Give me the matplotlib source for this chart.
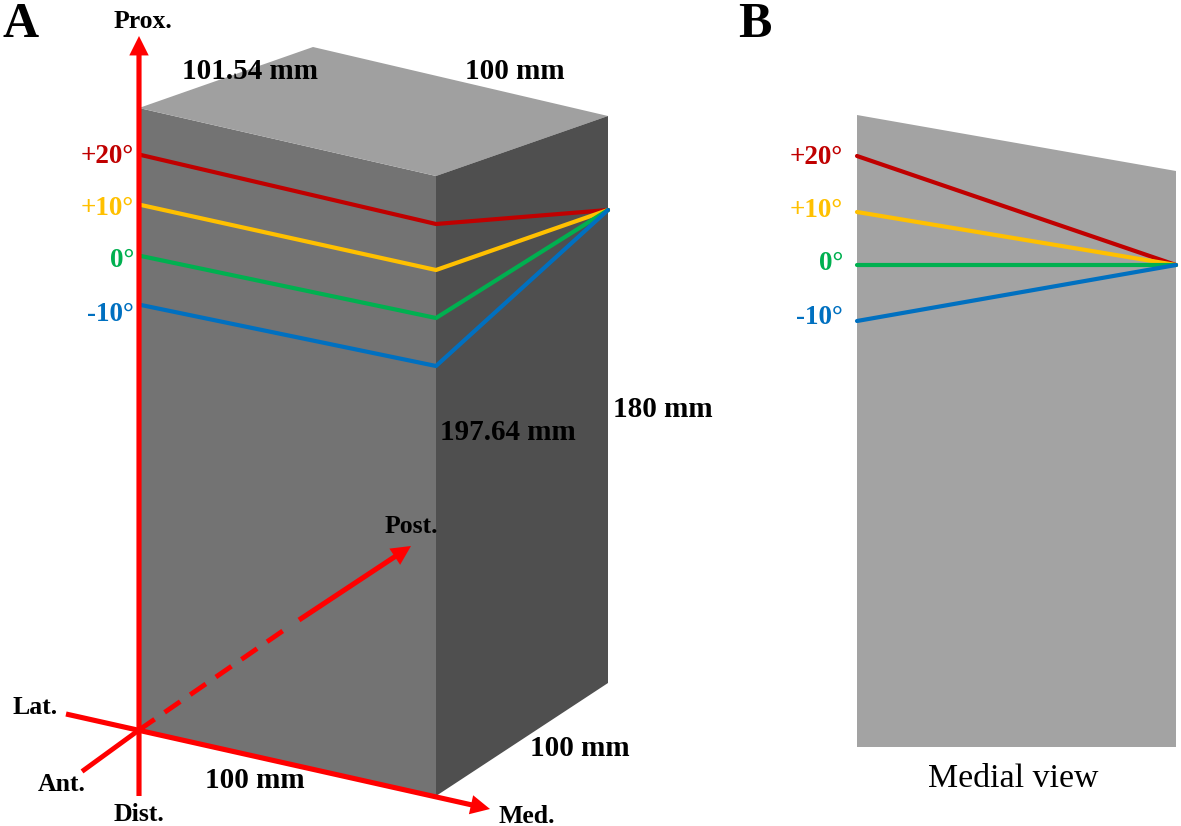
import matplotlib
matplotlib.use("Agg")
import matplotlib.pyplot as plt
from matplotlib.patches import Polygon

plt.rcParams["font.family"] = ["Liberation Serif", "DejaVu Serif"]

W, H = 1181, 826

# block faces, pixel positions in the figure
front_face = [(139, 108), (436, 176), (436, 796), (139, 730)]
top_face = [(139, 108), (313, 47), (608, 116), (436, 176)]
side_face = [(436, 176), (608, 116), (608, 683), (436, 796)]
medial_face = [(857, 115), (1176, 171), (1176, 747), (857, 747)]

angle_labels = ["+20°", "+10°", "0°", "-10°"]
angle_colors = ["#c00000", "#ffc000", "#00b050", "#0070c0"]

# cut lines on the block: lateral edge, front edge, back corner
lines_x = [141, 436, 608]
lines_y = {
    "+20°": [155, 224, 210],
    "+10°": [205, 270, 210],
    "0°": [256, 318, 210],
    "-10°": [305, 366, 210],
}
label_a_y = [163, 215, 267, 321]

# medial view lines
medial_x = [857, 1176]
medial_y = {
    "+20°": [156, 265],
    "+10°": [212, 265],
    "0°": [265, 265],
    "-10°": [321, 265],
}
label_b_y = [164, 217, 270, 324]

dim_labels = [
    ("101.54 mm", 249.5, 79), ("100 mm", 515, 79), ("197.64 mm", 508, 440),
    ("180 mm", 663, 417), ("100 mm", 580, 756), ("100 mm", 255, 788),
]
axis_labels = [
    ("Prox.", 143, 28), ("Post.", 411, 533), ("Lat.", 35, 714),
    ("Ant.", 62, 791), ("Dist.", 139, 821), ("Med.", 527, 823),
]

fig = plt.figure(figsize=(W / 100, H / 100), dpi=100)
ax = fig.add_axes([0, 0, 1, 1])
ax.set_xlim(0, W)
ax.set_ylim(H, 0)
ax.axis("off")

ax.add_patch(Polygon(front_face, color="#737373", lw=0))
ax.add_patch(Polygon(top_face, color="#a0a0a0", lw=0))
ax.add_patch(Polygon(side_face, color="#4f4f4f", lw=0))
ax.add_patch(Polygon(medial_face, color="#a3a3a3", lw=0))

for name, col, ly in zip(angle_labels, angle_colors, label_a_y):
    ax.plot(lines_x, lines_y[name], color=col, lw=3, solid_capstyle="round")
    ax.text(134, ly, name, color=col, fontsize=19.5, fontweight="bold", ha="right", va="baseline")

for name, col, ly in zip(angle_labels, angle_colors, label_b_y):
    ax.plot(medial_x, medial_y[name], color=col, lw=3, solid_capstyle="round")
    ax.text(843, ly, name, color=col, fontsize=19.5, fontweight="bold", ha="right", va="baseline")

# red axes
red = "#ff0000"
arrow = dict(arrowstyle="simple,head_length=1.4,head_width=1.4,tail_width=0.37",
             color=red, lw=0, shrinkA=0, shrinkB=0, mutation_scale=10)
ax.annotate("", xy=(139, 36), xytext=(139, 796), arrowprops=arrow)
ax.annotate("", xy=(490, 809), xytext=(66, 714), arrowprops=arrow)
ax.annotate("", xy=(411, 546), xytext=(299, 620), arrowprops=arrow)
ax.plot([139, 287], [730, 628], color=red, lw=3.5, ls=(0, (3.9, 2.5)), dash_capstyle="butt")
ax.plot([84, 139], [770, 730], color=red, lw=3.5)

for txt, x, y in dim_labels:
    ax.text(x, y, txt, fontsize=21, fontweight="bold", ha="center", va="baseline")
for txt, x, y in axis_labels:
    ax.text(x, y, txt, fontsize=18.5, fontweight="bold", ha="center", va="baseline")

ax.text(21, 37, "A", fontsize=36, fontweight="bold", ha="center", va="baseline")
ax.text(755, 37, "B", fontsize=36, fontweight="bold", ha="center", va="baseline")
ax.text(1013, 787, "Medial view", fontsize=24.4, ha="center", va="baseline")

fig.savefig("out.png", dpi=100)
